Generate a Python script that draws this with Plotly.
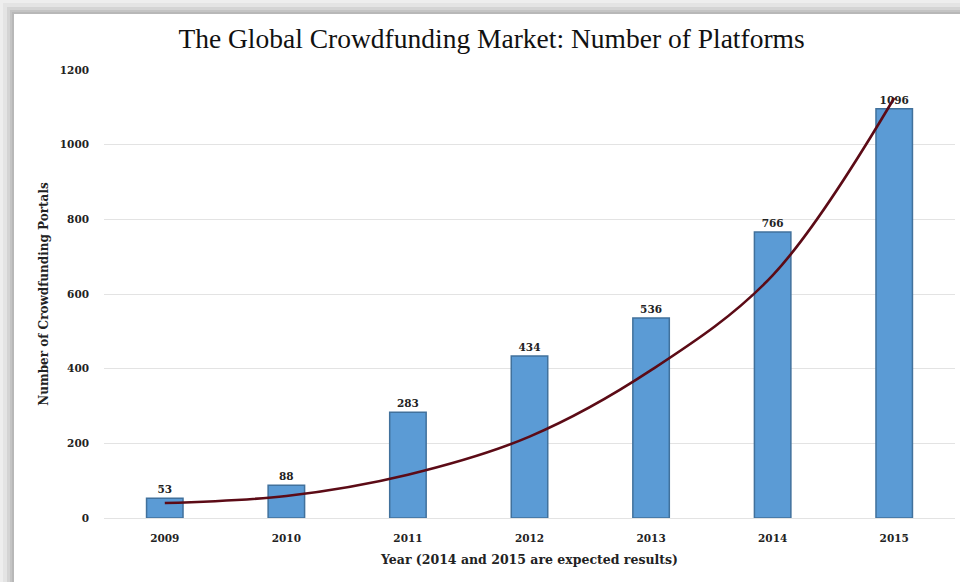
import plotly.graph_objects as go

# Number of crowdfunding platforms per year
years = ["2009", "2010", "2011", "2012", "2013", "2014", "2015"]
platforms = [53, 88, 283, 434, 536, 766, 1096]
# Growth trend curve values at each year
trend = [40, 59, 116, 218, 396, 650, 1125]
y_ticks = [0, 200, 400, 600, 800, 1000, 1200]

W, H = 960, 582
ML, MR, MT, MB = 104, 5, 70, 64
PW, PH = W - ML - MR, H - MT - MB

def px_x(p):
    return (p - ML) / PW

def px_y(p):
    return (H - MB - p) / PH

fig = go.Figure()

fig.add_trace(go.Bar(
    x=years, y=platforms,
    marker=dict(color="#5B9BD5", line=dict(color="#41719C", width=1.5)),
    text=[str(v) for v in platforms],
    textposition="outside",
    textfont=dict(family="DejaVu Serif", size=10.5, color="#222222", weight="bold"),
    cliponaxis=False,
))

fig.add_trace(go.Scatter(
    x=years, y=trend, mode="lines",
    line=dict(color="#5c0b16", width=2.6, shape="spline", smoothing=1.0),
    hoverinfo="skip",
))

# Card with soft shadow behind the chart
shapes = []
for off, col in [(3, "#e4e4e4"), (7, "#d4d4d4"), (10, "#c4c4c4"), (12, "#b8b8b8")]:
    shapes.append(dict(type="rect", xref="paper", yref="paper", layer="below",
                       x0=px_x(off), x1=px_x(W + 5), y0=px_y(H + 5), y1=px_y(off),
                       fillcolor=col, line=dict(width=0)))
shapes.append(dict(type="rect", xref="paper", yref="paper", layer="below",
                   x0=px_x(14), x1=px_x(W + 5), y0=px_y(H + 5), y1=px_y(14),
                   fillcolor="white", line=dict(width=0)))

fig.update_layout(
    width=W, height=H,
    margin=dict(l=ML, r=MR, t=MT, b=MB),
    paper_bgcolor="#eeeeee",
    plot_bgcolor="rgba(0,0,0,0)",
    showlegend=False,
    bargap=0.70,
    shapes=shapes,
    title=dict(
        text="The Global Crowdfunding Market: Number of Platforms",
        x=0.512, xanchor="center", y=1 - 38 / H, yanchor="middle",
        font=dict(family="Liberation Serif", size=27.5, color="#111111"),
    ),
    xaxis=dict(
        showgrid=False, showline=False, zeroline=False,
        ticks="", ticklabelstandoff=12,
        tickfont=dict(family="DejaVu Serif", size=10.5, color="#222222", weight="bold"),
        title=dict(text="Year (2014 and 2015 are expected results)", standoff=12,
                   font=dict(family="DejaVu Serif", size=12.5, color="#222222", weight="bold")),
    ),
    yaxis=dict(
        range=[0, 1200], tickvals=y_ticks,
        showgrid=True, gridcolor="#e3e3e3", gridwidth=1,
        zeroline=True, zerolinecolor="#e3e3e3", zerolinewidth=1,
        showline=False, ticks="", ticklabelstandoff=14,
        tickfont=dict(family="DejaVu Serif", size=10.5, color="#222222", weight="bold"),
        title=dict(text="Number of Crowdfunding Portals", standoff=8,
                   font=dict(family="DejaVu Serif", size=12, color="#222222", weight="bold")),
    ),
)

fig.write_html("out.html")
